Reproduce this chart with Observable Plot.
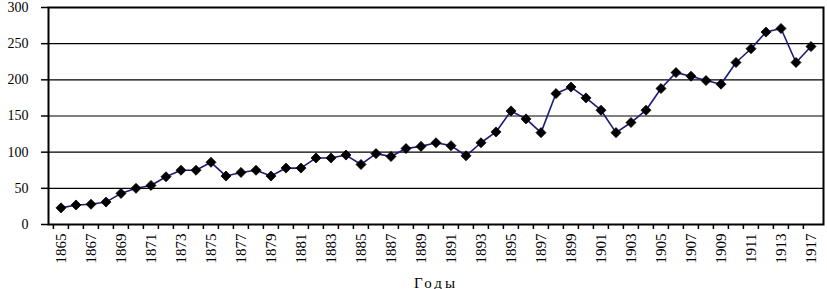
<!DOCTYPE html>
<html><head><meta charset="utf-8">
<script src="https://cdn.jsdelivr.net/npm/d3@7"></script>
<script src="https://cdn.jsdelivr.net/npm/@observablehq/plot@0.6"></script>
<style>body{margin:0;background:#fff}</style>
</head><body><div id="chart"></div>
<script>
const years = ["1865","1866","1867","1868","1869","1870","1871","1872","1873","1874","1875","1876","1877","1878","1879","1880","1881","1882","1883","1884","1885","1886","1887","1888","1889","1890","1891","1892","1893","1894","1895","1896","1897","1898","1899","1900","1901","1902","1903","1904","1905","1906","1907","1908","1909","1910","1911","1912","1913","1916","1917"];
const values = [23,27,28,31,43,50,54,66,75,75,86,67,72,75,67,78,78,92,92,96,83,98,94,105,108,113,109,95,113,128,157,146,127,181,190,175,158,127,141,158,188,210,205,199,194,224,243,266,271,224,246];
const yTicks = [0,50,100,150,200,250,300];
const xLabels = years.filter((d,i)=>i%2===0);
const xTitle = "Годы";

const data = years.map((year,i)=>({year, value: values[i]}));
const W=827, H=289, mL=48, mR=4, mT=7, mB=65;
const step = (W-mL-mR)/years.length;
const diamond = {draw(ctx, size){const a=Math.sqrt(size/2); ctx.moveTo(0,-a); ctx.lineTo(a,0); ctx.lineTo(0,a); ctx.lineTo(-a,0); ctx.closePath();}};

const chart = Plot.plot({
  width: W, height: H, marginLeft: mL, marginRight: mR, marginTop: mT, marginBottom: mB,
  style: {fontFamily: "'Liberation Serif', 'Times New Roman', serif", fontSize: "14px", color: "#000", background: "#fff"},
  x: {type: "band", domain: years, padding: 0, axis: null},
  y: {domain: [0,300], axis: null},
  marks: [
    Plot.ruleY(yTicks.slice(1,-1), {stroke: "#000", strokeWidth: 1.2}),
    Plot.axisY({ticks: yTicks, tickSize: 7, tickPadding: 13, fontSize: 14, stroke: "#000", strokeWidth: 1.5, label: null}),
    Plot.axisX({ticks: years, tickFormat: () => "", tickSize: 5, dx: -step/2, stroke: "#000", strokeWidth: 1.5, label: null}),
    Plot.axisX({ticks: xLabels, tickSize: 0, tickRotate: -90, tickPadding: 9, fontSize: 15, label: null}),
    Plot.frame({stroke: "#000", strokeWidth: 2}),
    Plot.line(data, {x: "year", y: "value", stroke: "#1c1c78", strokeWidth: 1.6}),
    Plot.dot(data, {x: "year", y: "value", symbol: diamond, r: 4, fill: "#000", stroke: "#000", strokeWidth: 0.8}),
    Plot.text([xTitle], {frameAnchor: "bottom", dy: 63, lineAnchor: "bottom", fontSize: 15})
  ]
});
d3.select(chart).selectAll("text").filter(function(){return this.textContent === xTitle;}).attr("letter-spacing", "3px");
document.getElementById("chart").appendChild(chart);
</script>
</body></html>
